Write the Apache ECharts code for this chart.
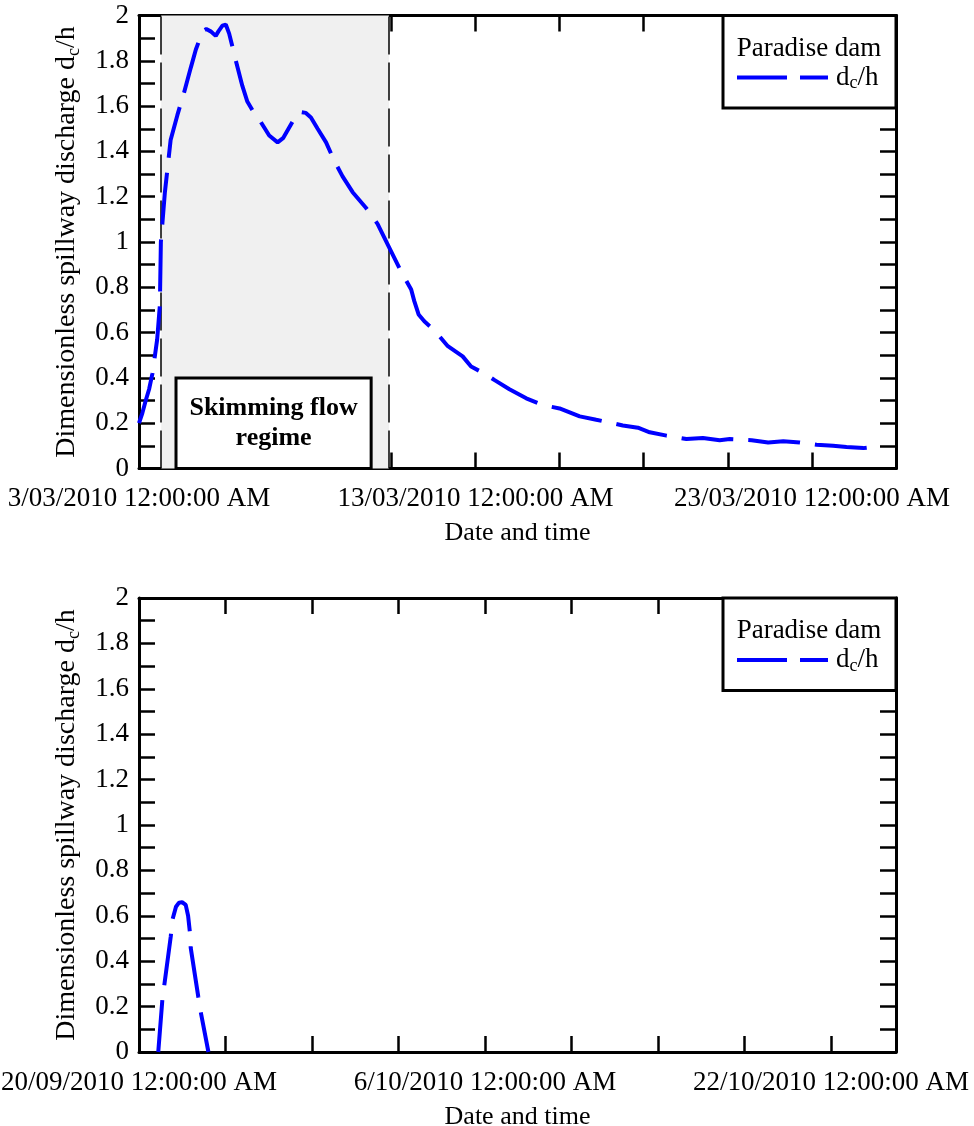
<!DOCTYPE html>
<html>
<head>
<meta charset="utf-8">
<script src="https://cdn.jsdelivr.net/npm/echarts@6/dist/echarts.min.js"></script>
<style>
  html, body { margin: 0; background: #fff; }
  #chart { width: 974px; height: 1126px; }
</style>
</head>
<body>
<div id="chart"></div>
<script>
// Paradise dam: dimensionless spillway discharge dc/h
// x values are days after the first labelled date of each panel

// March 2010 event
const marchDays = [0, 0.1, 0.2, 0.3, 0.4, 0.54, 0.62, 0.65, 0.77, 0.94, 1.14, 1.34, 1.54, 1.69, 1.79, 1.88,
  2.0, 2.13, 2.28, 2.36, 2.48, 2.58, 2.68, 2.88, 3.07, 3.22, 3.42, 3.62, 3.87, 4.12, 4.29, 4.56, 4.76,
  4.96, 5.11, 5.31, 5.56, 5.8, 6.05, 6.35, 6.75, 7.09, 7.39, 7.79, 8.09, 8.18, 8.31, 8.48, 8.78, 9.18,
  9.62, 9.87, 10.32, 10.57, 11.01, 11.51, 12.0, 12.5, 13.1, 13.59, 14.09, 14.38, 14.83, 15.18, 15.68,
  16.27, 16.76, 17.26, 17.56, 18.21, 18.7, 19.15, 19.64, 20.14, 20.63, 21.03, 21.53, 21.82];
const marchDcH = [0.2, 0.245, 0.3, 0.35, 0.42, 0.57, 0.72, 1.0, 1.22, 1.45, 1.56, 1.66, 1.77, 1.85, 1.89, 1.93,
  1.94, 1.93, 1.91, 1.93, 1.955, 1.96, 1.92, 1.8, 1.69, 1.62, 1.57, 1.53, 1.47, 1.44, 1.46, 1.53, 1.575,
  1.57, 1.55, 1.5, 1.44, 1.36, 1.29, 1.22, 1.15, 1.08, 0.99, 0.87, 0.79, 0.74, 0.68, 0.65, 0.61, 0.54,
  0.495, 0.45, 0.415, 0.39, 0.35, 0.31, 0.28, 0.265, 0.23, 0.215, 0.2, 0.19, 0.18, 0.16, 0.145,
  0.13, 0.135, 0.125, 0.13, 0.125, 0.115, 0.12, 0.115, 0.105, 0.1, 0.095, 0.09, 0.095];
const marchTickDays = [0, 10, 20];
const marchTickLabels = ['3/03/2010 12:00:00 AM', '13/03/2010 12:00:00 AM', '23/03/2010 12:00:00 AM'];
const skimming = [0.66, 7.43]; // start / end of skimming flow, days

// September-October 2010 event
const octDays = [0.89, 1.08, 1.47, 1.54, 1.71, 1.85, 1.99, 2.16, 2.27, 2.35, 2.39, 2.74, 2.85, 3.21];
const octDcH = [0, 0.23, 0.51, 0.58, 0.64, 0.658, 0.66, 0.648, 0.6, 0.53, 0.46, 0.244, 0.178, 0];
const octTickDays = [0, 16, 32];
const octTickLabels = ['20/09/2010 12:00:00 AM', '6/10/2010 12:00:00 AM', '22/10/2010 12:00:00 AM'];

const FONT = "'Liberation Serif', 'Times New Roman', serif";
const BLUE = '#0000ff';

const chart = echarts.init(document.getElementById('chart'));

function zip(xs, ys) {
  return xs.map((x, i) => [x, ys[i]]);
}

function labelFor(days, labels) {
  return function (v) {
    const i = days.findIndex(d => Math.abs(d - v) < 1e-6);
    return i >= 0 ? labels[i] : '';
  };
}

const tick = { inside: true, length: 16, lineStyle: { color: '#000', width: 2.5 } };
const line = { show: true, onZero: false, lineStyle: { color: '#000', width: 3 } };

function xAxes(grid, max, interval, days, labels) {
  return [
    {
      type: 'value', gridIndex: grid, position: 'bottom', min: 0, max: max, interval: interval,
      axisLine: line, axisTick: tick, splitLine: { show: false },
      axisLabel: { formatter: labelFor(days, labels), color: '#000', fontSize: 27, fontFamily: FONT, margin: 17 },
      name: 'Date and time', nameLocation: 'middle', nameGap: 52,
      nameTextStyle: { color: '#000', fontSize: 26, fontFamily: FONT }
    },
    {
      type: 'value', gridIndex: grid, position: 'top', min: 0, max: max, interval: interval,
      axisLine: line, axisTick: tick, splitLine: { show: false }, axisLabel: { show: false }
    }
  ];
}

function yAxes(grid) {
  return [
    {
      type: 'value', gridIndex: grid, position: 'left', min: 0, max: 2, interval: 0.1,
      axisLine: line, axisTick: tick, splitLine: { show: false },
      axisLabel: {
        color: '#000', fontSize: 27, fontFamily: FONT, margin: 10,
        formatter: v => (Math.round(v * 10) % 2 === 0 ? String(Math.round(v * 10) / 10) : '')
      },
      name: 'Dimensionless spillway discharge d{sub|c}/h', nameLocation: 'middle', nameGap: 56,
      nameTextStyle: {
        color: '#000', fontSize: 28, fontFamily: FONT, lineHeight: 32,
        rich: { sub: { fontSize: 18, fontFamily: FONT, color: '#000', lineHeight: 15, verticalAlign: 'bottom' } }
      }
    },
    {
      type: 'value', gridIndex: grid, position: 'right', min: 0, max: 2, interval: 0.1,
      axisLine: line, axisTick: tick, splitLine: { show: false }, axisLabel: { show: false }
    }
  ];
}

function legend(top) {
  return [
    {
      type: 'rect', shape: { x: 723, y: top, width: 173, height: 92.5 },
      style: { fill: '#fff', stroke: '#000', lineWidth: 3 }, z: 10
    },
    {
      type: 'text', x: 809, y: top + 33,
      style: { text: 'Paradise dam', fill: '#000', font: '27px ' + FONT, align: 'center', verticalAlign: 'middle' }, z: 11
    },
    {
      type: 'line', shape: { x1: 737, y1: top + 62, x2: 828, y2: top + 62 },
      style: { stroke: BLUE, lineWidth: 4, lineDash: [50, 13] }, z: 11
    },
    {
      type: 'text', x: 836, y: top + 62,
      style: {
        text: 'd{sub|c}/h', fill: '#000', font: '27px ' + FONT, verticalAlign: 'middle', lineHeight: 30,
        rich: { sub: { font: '18px ' + FONT, fill: '#000', lineHeight: 14, verticalAlign: 'bottom' } }
      }, z: 11
    }
  ];
}

const dcLine = { color: BLUE, width: 4, type: [52, 15] };

const option = {
  backgroundColor: '#fff',
  animation: false,
  grid: [
    { left: 139, right: 78, top: 15.5, height: 453, outerBoundsMode: 'none' },
    { left: 139, right: 78, top: 598, height: 454, outerBoundsMode: 'none' }
  ],
  xAxis: [
    ...xAxes(0, 22.5, 2.5, marchTickDays, marchTickLabels),
    ...xAxes(1, 35, 4, octTickDays, octTickLabels)
  ],
  yAxis: [...yAxes(0), ...yAxes(1)],
  series: [
    {
      name: 'dc/h', type: 'line', xAxisIndex: 0, yAxisIndex: 0,
      data: zip(marchDays, marchDcH), showSymbol: false, lineStyle: dcLine, z: 5,
      markArea: {
        silent: true,
        data: [
          [{ xAxis: skimming[0], itemStyle: { color: '#f0f0f0' } }, { xAxis: skimming[1] }],
          [{
            xAxis: 1.1, yAxis: 0,
            itemStyle: { color: '#fff', borderColor: '#000', borderWidth: 3 },
            label: {
              show: true, position: 'inside', formatter: 'Skimming flow\nregime',
              color: '#000', fontSize: 26, fontWeight: 'bold', fontFamily: FONT, lineHeight: 30
            }
          }, { xAxis: 6.9, yAxis: 0.4 }]
        ]
      },
      markLine: {
        silent: true, symbol: ['none', 'none'], label: { show: false },
        lineStyle: { color: '#000', width: 1.5, type: [38, 8] },
        data: [{ xAxis: skimming[0] }, { xAxis: skimming[1] }]
      }
    },
    {
      name: 'dc/h', type: 'line', xAxisIndex: 2, yAxisIndex: 2,
      data: zip(octDays, octDcH), showSymbol: false, lineStyle: dcLine, z: 5
    }
  ],
  graphic: [...legend(15.5), ...legend(598)]
};

chart.setOption(option);
</script>
</body>
</html>
